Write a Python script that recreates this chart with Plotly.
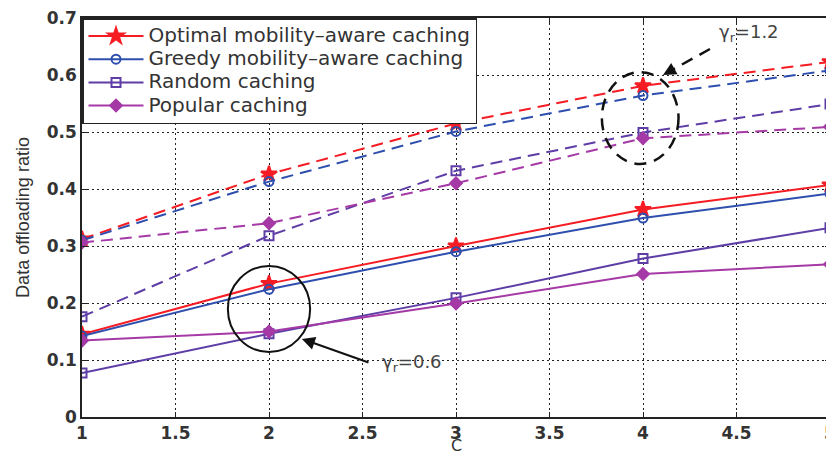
import plotly.graph_objects as go

# ---- data ----
C = [1, 2, 3, 4, 5]

# gamma_r = 0.6 (solid)
optimal_06 = [0.145, 0.234, 0.300, 0.364, 0.407]
greedy_06 = [0.142, 0.224, 0.290, 0.349, 0.392]
random_06 = [0.077, 0.146, 0.209, 0.278, 0.332]
popular_06 = [0.134, 0.150, 0.199, 0.251, 0.268]

# gamma_r = 1.2 (dashed)
optimal_12 = [0.312, 0.426, 0.515, 0.581, 0.623]
greedy_12 = [0.310, 0.413, 0.501, 0.564, 0.608]
random_12 = [0.176, 0.318, 0.432, 0.499, 0.549]
popular_12 = [0.306, 0.340, 0.410, 0.489, 0.509]

names = ["Optimal mobility\u2013aware caching", "Greedy mobility\u2013aware caching",
         "Random caching", "Popular caching"]
x_ticks = [1, 1.5, 2, 2.5, 3, 3.5, 4, 4.5, 5]
y_ticks = [0, 0.1, 0.2, 0.3, 0.4, 0.5, 0.6, 0.7]
x_title = "C"

colors = ["#f51c24", "#2f4fae", "#5e3ea6", "#a53aa6"]
symbols = ["star", "circle-open", "square-open", "diamond"]
sizes = [12, 9, 9, 9]

fig = go.Figure()
solid = [optimal_06, greedy_06, random_06, popular_06]
dashed = [optimal_12, greedy_12, random_12, popular_12]

for i in range(4):
    fig.add_trace(go.Scatter(
        x=C, y=dashed[i], mode="lines+markers", showlegend=False,
        line=dict(color=colors[i], width=2, dash="12px,7px"),
        marker=dict(symbol=symbols[i], size=sizes[i], color=colors[i],
                    line=dict(color=colors[i], width=2)),
    ))
for i in range(4):
    fig.add_trace(go.Scatter(
        x=C, y=solid[i], mode="lines+markers",
        name='<span style="font-size:20px">' + names[i] + '</span>',
        line=dict(color=colors[i], width=2),
        marker=dict(symbol=symbols[i], size=sizes[i], color=colors[i],
                    line=dict(color=colors[i], width=2)),
    ))

axis_common = dict(
    showline=True, linecolor="#222", linewidth=1.5, mirror="ticks",
    ticks="inside", ticklen=5, tickcolor="#222",
    showgrid=True, gridcolor="#222", gridwidth=1, griddash="2px,3px",
    zeroline=False, automargin=False, ticklabeloverflow="allow",
    tickfont=dict(family="DejaVu Sans", size=17, color="#333", weight="bold"),
)

fig.update_xaxes(range=[1, 5], tickvals=x_ticks, ticktext=[str(v) for v in x_ticks],
                 **axis_common)
fig.update_yaxes(range=[0, 0.7], tickvals=y_ticks, ticktext=[("0" if v == 0 else str(v)) for v in y_ticks],
                 title=dict(text="Data offloading ratio",
                            font=dict(family="Liberation Sans", size=18, color="#333"),
                            standoff=12),
                 **axis_common)

# x-axis title, placed just below the tick labels (partly cut off as in the original)
fig.add_annotation(x=3, y=0, xref="x", yref="paper", text=x_title, showarrow=False,
                   xanchor="center", yanchor="top", yshift=-17,
                   font=dict(family="DejaVu Sans", size=16, color="#333"))

# annotation shapes
fig.add_shape(type="circle", xref="x", yref="y", x0=1.78, x1=2.22, y0=0.114, y1=0.265,
              line=dict(color="#111", width=2))
fig.add_shape(type="circle", xref="x", yref="y", x0=3.78, x1=4.19, y0=0.444, y1=0.605,
              line=dict(color="#111", width=2.5, dash="12px,8px"))
fig.add_shape(type="line", xref="x", yref="y", x0=4.358, y0=0.6456, x1=4.14, y1=0.606,
              line=dict(color="#111", width=2.5, dash="12px,8px"))

fig.add_annotation(x=2.176, y=0.137, ax=2.54, ay=0.0947, axref="x", ayref="y",
                   xref="x", yref="y", text="", showarrow=True,
                   arrowhead=2, arrowsize=1.3, arrowwidth=2, arrowcolor="#111")
fig.add_annotation(x=4.107, y=0.600, ax=4.17, ay=0.6115, axref="x", ayref="y",
                   xref="x", yref="y", text="", showarrow=True,
                   arrowhead=2, arrowsize=1.3, arrowwidth=2, arrowcolor="#111")
fig.add_annotation(x=2.594, y=0.095, xref="x", yref="y", text="\u03b3<sub>r</sub>=0.6",
                   showarrow=False, xanchor="left", yanchor="middle",
                   font=dict(family="DejaVu Sans", size=18, color="#444"))
fig.add_annotation(x=4.396, y=0.674, xref="x", yref="y", text="\u03b3<sub>r</sub>=1.2",
                   showarrow=False, xanchor="left", yanchor="middle",
                   font=dict(family="DejaVu Sans", size=18, color="#444"))

# page body has an 8px margin, so the figure is 826x444 and sits at (8, 8)
fig.update_layout(
    width=826, height=444,
    margin=dict(l=74, r=4, t=10, b=35),
    plot_bgcolor="white", paper_bgcolor="white",
    legend=dict(x=0, y=1, xanchor="left", yanchor="top",
                bgcolor="white", bordercolor="#222", borderwidth=1.5,
                font=dict(family="DejaVu Sans", size=15.5, color="#333"),
                itemwidth=55, tracegroupgap=0),
    showlegend=True,
)

fig.write_html("out.html")
